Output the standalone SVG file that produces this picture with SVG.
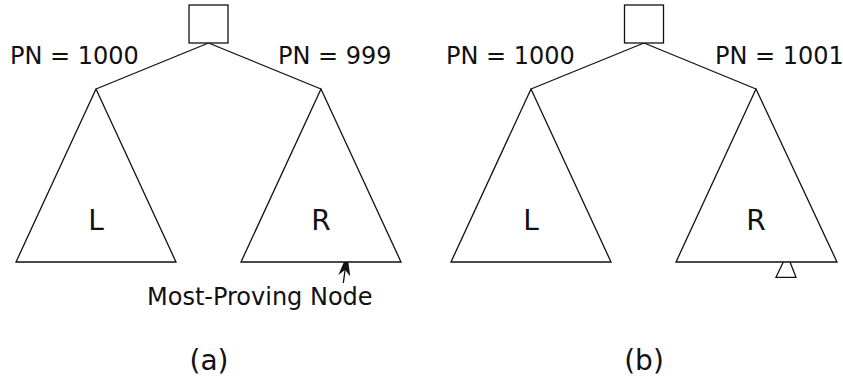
<svg xmlns="http://www.w3.org/2000/svg" width="843" height="381" viewBox="0 0 843 381">
  <style>
    .shape { fill: #fff; stroke: #111; stroke-width: 1.3; stroke-linejoin: miter; }
    .edge { fill: none; stroke: #111; stroke-width: 1.3; }
    .txt { font-family: "DejaVu Sans", "Liberation Sans", sans-serif; fill: #111; }
    .pn { font-size: 24px; }
    .big { font-size: 28px; text-anchor: middle; }
    .cap { font-size: 28px; text-anchor: middle; }
  </style>
  <defs>
    <marker id="head" markerUnits="userSpaceOnUse" viewBox="-22 -7 22 14" refX="0" refY="0" markerWidth="22" markerHeight="14" orient="auto">
      <path d="M0,0 L-22,-6 L-16,0 L-22,6 Z" fill="#111"/>
    </marker>
  </defs>
  <rect width="843" height="381" fill="#fff"/>

  <!-- connectors: root to subtree apexes, pointer arrow -->
  <g id="connectors">
    <line class="edge" x1="208.5" y1="43" x2="96" y2="89"/>
    <line class="edge" x1="208.5" y1="43" x2="321" y2="89"/>
    <line class="edge" x1="644" y1="43" x2="531" y2="89"/>
    <line class="edge" x1="644" y1="43" x2="756" y2="89"/>
    <line class="edge" x1="343.3" y1="283" x2="347.3" y2="254" marker-end="url(#head)"/>
  </g>

  <!-- tree (a) -->
  <g id="root-a">
    <rect class="shape" x="189" y="5" width="39" height="38"/>
  </g>
  <g id="subtree-a-L">
    <polygon class="shape" points="96,89 16,262 176,262"/>
    <text class="txt big" x="96" y="230">L</text>
  </g>
  <g id="subtree-a-R">
    <polygon class="shape" points="321,89 241,262 401,262"/>
    <text class="txt big" x="321" y="230">R</text>
  </g>
  <text class="txt pn" x="10" y="64">PN = 1000</text>
  <text class="txt pn" x="278" y="64">PN = 999</text>
  <text class="txt pn" x="147" y="305">Most-Proving Node</text>
  <text class="txt cap" x="209" y="370">(a)</text>

  <!-- tree (b) -->
  <g id="root-b">
    <rect class="shape" x="624.5" y="5" width="39" height="38"/>
  </g>
  <g id="subtree-b-L">
    <polygon class="shape" points="531,89 451,262 611,262"/>
    <text class="txt big" x="531" y="230">L</text>
  </g>
  <g id="subtree-b-R">
    <polygon class="shape" points="756,89 676,262 837,262"/>
    <text class="txt big" x="756" y="230">R</text>
  </g>
  <g id="new-node-b">
    <polyline class="edge" points="783.3,262 776,277.3 796,277.3 790,262"/>
  </g>
  <text class="txt pn" x="446" y="64">PN = 1000</text>
  <text class="txt pn" x="715" y="64">PN = 1001</text>
  <text class="txt cap" x="644" y="370">(b)</text>
</svg>
